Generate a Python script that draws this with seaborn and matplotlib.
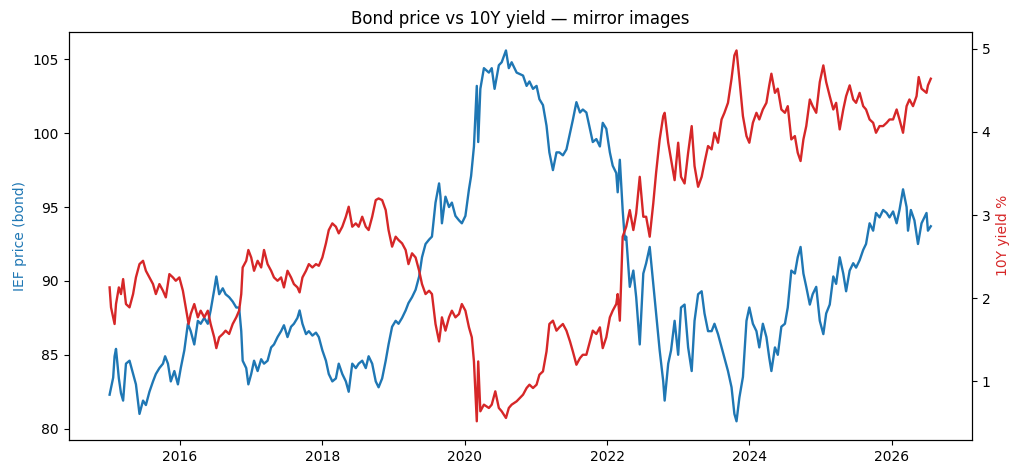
import numpy as np
import pandas as pd
import seaborn as sns
import matplotlib.pyplot as plt

# values (decimal years)
ief_years = [2015.01, 2015.06, 2015.08, 2015.10, 2015.14, 2015.17, 2015.20, 2015.24, 2015.29, 2015.34,
             2015.38, 2015.43, 2015.48, 2015.52, 2015.57, 2015.62, 2015.66, 2015.71, 2015.76, 2015.79,
             2015.83, 2015.87, 2015.92, 2015.97, 2016.01, 2016.06, 2016.11, 2016.15, 2016.20, 2016.25,
             2016.29, 2016.34, 2016.39, 2016.43, 2016.48, 2016.51, 2016.55, 2016.60, 2016.64, 2016.69,
             2016.74, 2016.79, 2016.83, 2016.86, 2016.88, 2016.93, 2016.96, 2017.00, 2017.04, 2017.09,
             2017.14, 2017.18, 2017.23, 2017.28, 2017.32, 2017.37, 2017.42, 2017.46, 2017.51, 2017.56,
             2017.60, 2017.65, 2017.68, 2017.72, 2017.77, 2017.81, 2017.86, 2017.91, 2017.95, 2018.00,
             2018.05, 2018.09, 2018.14, 2018.19, 2018.23, 2018.28, 2018.33, 2018.37, 2018.42, 2018.47,
             2018.51, 2018.56, 2018.61, 2018.65, 2018.70, 2018.75, 2018.79, 2018.84, 2018.89, 2018.93,
             2018.98, 2019.03, 2019.07, 2019.12, 2019.17, 2019.21, 2019.26, 2019.31, 2019.36, 2019.40,
             2019.45, 2019.50, 2019.54, 2019.59, 2019.64, 2019.66, 2019.68, 2019.73, 2019.78, 2019.82,
             2019.87, 2019.92, 2019.96, 2020.01, 2020.06, 2020.09, 2020.13, 2020.15, 2020.17, 2020.19,
             2020.22, 2020.27, 2020.34, 2020.38, 2020.42, 2020.48, 2020.52, 2020.58, 2020.62, 2020.66,
             2020.73, 2020.82, 2020.87, 2020.91, 2020.96, 2021.01, 2021.05, 2021.10, 2021.15, 2021.19,
             2021.24, 2021.29, 2021.33, 2021.38, 2021.43, 2021.48, 2021.52, 2021.57, 2021.62, 2021.66,
             2021.71, 2021.76, 2021.80, 2021.85, 2021.90, 2021.94, 2021.99, 2022.04, 2022.08, 2022.13,
             2022.15, 2022.18, 2022.22, 2022.25, 2022.27, 2022.32, 2022.37, 2022.41, 2022.46, 2022.51,
             2022.55, 2022.60, 2022.65, 2022.69, 2022.74, 2022.79, 2022.81, 2022.86, 2022.90, 2022.95,
             2023.00, 2023.04, 2023.09, 2023.14, 2023.19, 2023.23, 2023.28, 2023.33, 2023.37, 2023.42,
             2023.47, 2023.51, 2023.56, 2023.61, 2023.65, 2023.70, 2023.75, 2023.79, 2023.82, 2023.86,
             2023.91, 2023.96, 2024.00, 2024.05, 2024.10, 2024.14, 2024.19, 2024.24, 2024.28, 2024.31,
             2024.36, 2024.40, 2024.45, 2024.50, 2024.54, 2024.59, 2024.64, 2024.68, 2024.72, 2024.76,
             2024.80, 2024.85, 2024.89, 2024.94, 2024.99, 2025.04, 2025.08, 2025.13, 2025.18, 2025.22,
             2025.27, 2025.32, 2025.36, 2025.41, 2025.46, 2025.50, 2025.55, 2025.60, 2025.64, 2025.69,
             2025.74, 2025.78, 2025.83, 2025.88, 2025.93, 2025.97, 2026.02, 2026.07, 2026.11, 2026.16,
             2026.21, 2026.23, 2026.27, 2026.32, 2026.37, 2026.42, 2026.49, 2026.51, 2026.55]
ief_price = [82.3, 83.45, 84.9, 85.4, 83.4, 82.4, 81.9, 84.4, 84.6, 83.7,
             83.0, 81.0, 81.9, 81.6, 82.5, 83.2, 83.7, 84.1, 84.4, 84.9,
             84.4, 83.2, 83.9, 83.0, 84.1, 85.3, 87.1, 86.6, 85.7, 87.3,
             87.1, 87.5, 87.1, 88.0, 89.4, 90.3, 89.1, 89.5, 89.1, 88.9,
             88.6, 88.2, 88.2, 86.6, 84.6, 84.1, 83.0, 83.7, 84.6, 83.9,
             84.7, 84.4, 84.6, 85.5, 85.7, 86.2, 86.6, 87.0, 86.2, 86.9,
             87.1, 87.5, 88.0, 87.1, 86.4, 86.6, 86.3, 86.5, 86.2, 85.3,
             84.6, 83.7, 83.2, 83.4, 84.4, 83.7, 83.2, 82.5, 84.4, 84.1,
             84.4, 84.6, 84.1, 84.9, 84.4, 83.2, 82.8, 83.4, 84.6, 85.7,
             86.9, 87.3, 87.1, 87.5, 88.0, 88.5, 88.9, 89.4, 90.3, 91.6,
             92.5, 92.8, 93.0, 95.3, 96.6, 95.7, 93.9, 95.7, 95.0, 95.3,
             94.4, 94.1, 93.9, 94.4, 96.2, 97.1, 99.1, 101.2, 103.2, 99.4,
             103.0, 104.4, 104.1, 104.4, 103.0, 104.6, 104.8, 105.6, 104.4, 104.8,
             104.1, 103.9, 103.2, 103.5, 103.0, 103.2, 102.3, 101.9, 100.5, 98.7,
             97.5, 98.7, 98.7, 98.5, 98.9, 100.0, 100.9, 102.1, 101.4, 101.6,
             101.4, 100.3, 99.4, 99.6, 99.1, 100.7, 100.3, 98.7, 97.8, 97.3,
             96.0, 98.2, 94.8, 92.8, 93.0, 89.6, 90.7, 88.9, 85.7, 90.5,
             91.2, 92.3, 89.8, 87.8, 85.3, 83.2, 81.9, 84.4, 85.3, 87.3,
             85.0, 88.2, 88.4, 85.5, 83.9, 87.3, 89.1, 89.3, 87.8, 86.6,
             86.6, 87.1, 86.4, 85.5, 84.8, 83.9, 82.8, 81.0, 80.5, 82.1,
             83.5, 87.3, 88.2, 87.1, 86.6, 85.5, 87.1, 86.2, 84.8, 83.9,
             85.5, 85.0, 86.9, 87.1, 88.2, 90.7, 90.5, 91.6, 92.3, 90.5,
             89.6, 88.4, 89.1, 89.6, 87.3, 86.4, 87.8, 88.4, 90.3, 89.8,
             91.6, 90.5, 89.3, 90.7, 91.2, 90.9, 91.4, 92.1, 92.5, 93.9,
             93.4, 94.6, 94.3, 94.8, 94.6, 94.3, 94.7, 93.9, 94.8, 96.2,
             95.0, 93.4, 94.8, 94.1, 92.5, 93.9, 94.6, 93.4, 93.7]

y10_years = [2015.01, 2015.03, 2015.08, 2015.10, 2015.14, 2015.17, 2015.20, 2015.24, 2015.29, 2015.34,
             2015.38, 2015.43, 2015.48, 2015.52, 2015.57, 2015.62, 2015.66, 2015.71, 2015.76, 2015.80,
             2015.85, 2015.90, 2015.94, 2015.99, 2016.04, 2016.08, 2016.12, 2016.15, 2016.20, 2016.25,
             2016.29, 2016.34, 2016.39, 2016.43, 2016.48, 2016.51, 2016.55, 2016.60, 2016.64, 2016.69,
             2016.74, 2016.79, 2016.83, 2016.86, 2016.88, 2016.93, 2016.96, 2017.00, 2017.04, 2017.09,
             2017.14, 2017.18, 2017.23, 2017.28, 2017.32, 2017.37, 2017.42, 2017.46, 2017.51, 2017.56,
             2017.60, 2017.65, 2017.68, 2017.72, 2017.77, 2017.81, 2017.86, 2017.91, 2017.95, 2018.00,
             2018.05, 2018.09, 2018.14, 2018.19, 2018.23, 2018.28, 2018.33, 2018.37, 2018.42, 2018.47,
             2018.51, 2018.56, 2018.61, 2018.65, 2018.70, 2018.75, 2018.79, 2018.84, 2018.89, 2018.93,
             2018.98, 2019.03, 2019.07, 2019.12, 2019.17, 2019.21, 2019.26, 2019.31, 2019.36, 2019.40,
             2019.45, 2019.50, 2019.54, 2019.59, 2019.64, 2019.66, 2019.68, 2019.73, 2019.78, 2019.82,
             2019.87, 2019.92, 2019.96, 2020.01, 2020.06, 2020.10, 2020.13, 2020.15, 2020.17, 2020.19,
             2020.22, 2020.27, 2020.34, 2020.38, 2020.43, 2020.48, 2020.52, 2020.58, 2020.62, 2020.66,
             2020.73, 2020.82, 2020.87, 2020.91, 2020.96, 2021.01, 2021.05, 2021.10, 2021.15, 2021.19,
             2021.24, 2021.29, 2021.33, 2021.38, 2021.43, 2021.48, 2021.52, 2021.57, 2021.62, 2021.66,
             2021.71, 2021.76, 2021.80, 2021.85, 2021.90, 2021.94, 2021.99, 2022.04, 2022.08, 2022.13,
             2022.15, 2022.18, 2022.22, 2022.27, 2022.32, 2022.37, 2022.41, 2022.46, 2022.51, 2022.55,
             2022.60, 2022.65, 2022.69, 2022.74, 2022.79, 2022.81, 2022.86, 2022.90, 2022.95, 2023.00,
             2023.04, 2023.09, 2023.14, 2023.19, 2023.23, 2023.28, 2023.33, 2023.37, 2023.42, 2023.47,
             2023.51, 2023.56, 2023.61, 2023.65, 2023.70, 2023.75, 2023.79, 2023.82, 2023.86, 2023.91,
             2023.96, 2024.00, 2024.05, 2024.10, 2024.14, 2024.19, 2024.24, 2024.28, 2024.31, 2024.36,
             2024.40, 2024.45, 2024.50, 2024.54, 2024.59, 2024.64, 2024.68, 2024.72, 2024.76, 2024.80,
             2024.85, 2024.89, 2024.94, 2024.99, 2025.04, 2025.08, 2025.13, 2025.18, 2025.22, 2025.27,
             2025.32, 2025.36, 2025.41, 2025.46, 2025.50, 2025.55, 2025.60, 2025.64, 2025.69, 2025.74,
             2025.78, 2025.83, 2025.88, 2025.93, 2025.97, 2026.02, 2026.07, 2026.11, 2026.16, 2026.21,
             2026.25, 2026.30, 2026.35, 2026.38, 2026.42, 2026.49, 2026.51, 2026.55]
y10_yield = [2.13, 1.89, 1.69, 1.93, 2.13, 2.05, 2.23, 1.93, 1.89, 2.05,
             2.25, 2.41, 2.45, 2.33, 2.25, 2.17, 2.05, 2.17, 2.09, 2.01,
             2.29, 2.25, 2.21, 2.25, 2.09, 1.89, 1.69, 1.81, 1.93, 1.77,
             1.85, 1.77, 1.85, 1.69, 1.53, 1.40, 1.53, 1.57, 1.61, 1.57,
             1.69, 1.77, 1.85, 2.05, 2.37, 2.45, 2.58, 2.49, 2.33, 2.45,
             2.37, 2.58, 2.41, 2.33, 2.25, 2.21, 2.25, 2.13, 2.33, 2.25,
             2.17, 2.13, 2.07, 2.25, 2.33, 2.41, 2.37, 2.41, 2.39, 2.49,
             2.66, 2.82, 2.90, 2.86, 2.78, 2.86, 2.98, 3.10, 2.86, 2.90,
             2.86, 2.98, 2.86, 2.82, 2.98, 3.18, 3.20, 3.18, 3.06, 2.82,
             2.62, 2.74, 2.70, 2.66, 2.58, 2.41, 2.54, 2.49, 2.33, 2.17,
             2.05, 2.09, 2.05, 1.69, 1.48, 1.61, 1.77, 1.61, 1.77, 1.85,
             1.77, 1.81, 1.93, 1.85, 1.65, 1.53, 1.24, 0.88, 0.52, 1.24,
             0.64, 0.72, 0.68, 0.72, 0.88, 0.68, 0.64, 0.56, 0.68, 0.72,
             0.76, 0.84, 0.92, 0.96, 0.92, 0.96, 1.08, 1.12, 1.36, 1.69,
             1.73, 1.61, 1.65, 1.69, 1.61, 1.48, 1.36, 1.20, 1.28, 1.32,
             1.32, 1.48, 1.61, 1.57, 1.65, 1.40, 1.53, 1.77, 1.85, 1.93,
             2.05, 1.73, 2.74, 2.86, 3.06, 2.82, 3.02, 3.46, 2.98, 2.98,
             2.74, 3.14, 3.51, 3.91, 4.19, 4.23, 3.87, 3.67, 3.42, 3.87,
             3.46, 3.38, 3.75, 4.07, 3.59, 3.34, 3.46, 3.63, 3.83, 3.79,
             3.99, 3.87, 4.15, 4.23, 4.35, 4.64, 4.92, 4.98, 4.64, 4.19,
             3.95, 3.87, 4.11, 4.23, 4.15, 4.27, 4.35, 4.56, 4.70, 4.47,
             4.52, 4.27, 4.23, 4.31, 3.91, 3.95, 3.75, 3.65, 3.91, 4.07,
             4.39, 4.31, 4.23, 4.60, 4.80, 4.60, 4.43, 4.27, 4.35, 4.03,
             4.27, 4.43, 4.56, 4.39, 4.35, 4.47, 4.31, 4.27, 4.15, 4.11,
             3.99, 4.07, 4.07, 4.11, 4.15, 4.15, 4.27, 4.15, 3.99, 4.31,
             4.39, 4.31, 4.43, 4.66, 4.52, 4.47, 4.56, 4.64]


def to_dates(years):
    yrs = np.asarray(years)
    return pd.Timestamp('2015-01-01') + pd.to_timedelta((yrs - 2015) * 365.25, unit='D')


ief = pd.DataFrame({'date': to_dates(ief_years), 'price': ief_price})
y10 = pd.DataFrame({'date': to_dates(y10_years), 'yield': y10_yield})

fig, ax = plt.subplots(figsize=(10.23, 4.76), dpi=100)
sns.lineplot(data=ief, x='date', y='price', color='tab:blue', linewidth=1.7, ax=ax)
ax.set_ylabel('IEF price (bond)', color='tab:blue')
ax.set_xlabel('')

ax2 = ax.twinx()
sns.lineplot(data=y10, x='date', y='yield', color='tab:red', linewidth=1.7, ax=ax2)
ax2.set_ylabel('10Y yield %', color='tab:red')

ax.set_title('Bond price vs 10Y yield \u2014 mirror images')
fig.subplots_adjust(left=0.067, right=0.950, top=0.933, bottom=0.076)
fig.savefig('out.png', dpi=100)
